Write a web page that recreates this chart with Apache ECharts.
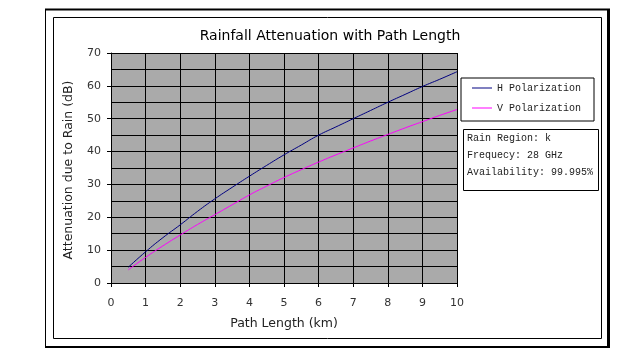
<!DOCTYPE html>
<html><head><meta charset="utf-8">
<script src="https://cdn.jsdelivr.net/npm/echarts@6/dist/echarts.min.js"></script>
<style>html,body{margin:0;padding:0;background:#fff}#c{width:637px;height:359px}</style>
</head><body><div id="c"></div>
<script>
const pathLength = [0.5,1,1.5,2,2.5,3,3.5,4,4.5,5,5.5,6,6.5,7,7.5,8,8.5,9,9.5,10];
const hPol = [4.8,9.5,13.8,17.7,21.8,25.6,29.1,32.5,35.8,39.0,42.0,45.0,47.5,50.0,52.5,55.0,57.4,59.8,62.0,64.3];
const vPol = [4.0,7.8,11.3,14.6,17.8,20.8,23.8,26.8,29.5,32.1,34.5,36.8,39.0,41.1,43.2,45.2,47.2,49.1,51.0,52.8];
const seriesNames = ['H Polarization','V Polarization'];
const infoLines = ['Rain Region: k','Frequecy: 28 GHz','Availability: 99.995%'];
const titleText = 'Rainfall Attenuation with Path Length';
const xName = 'Path Length (km)';
const yName = 'Attenuation due to Rain (dB)';

const chart = echarts.init(document.getElementById('c'), null, {renderer:'canvas'});
const mono = 'Liberation Mono';
const sans = 'DejaVu Sans';
chart.setOption({
  animation:false,
  backgroundColor:'#fff',
  title:{text:titleText,left:325,top:24,textAlign:'center',textStyle:{fontFamily:sans,fontSize:14,fontWeight:'normal',color:'#000'}},
  grid:{left:111,right:180,top:53,bottom:76,show:true,backgroundColor:'#aaaaaa',borderWidth:0},
  xAxis:{type:'value',min:0,max:10,interval:1,name:xName,nameLocation:'middle',nameGap:34,
    nameTextStyle:{fontFamily:sans,fontSize:12.5,color:'#222'},
    axisLine:{show:true,lineStyle:{color:'#000',width:1}},
    axisTick:{show:true,length:4,lineStyle:{color:'#000'}},
    axisLabel:{fontFamily:sans,fontSize:11,color:'#333',margin:15},
    splitLine:{show:true,lineStyle:{color:'#000',width:1}}},
  yAxis:{type:'value',min:0,max:70,interval:10,
    axisLine:{show:true,lineStyle:{color:'#000',width:1}},
    axisTick:{show:true,length:4,lineStyle:{color:'#000'}},
    axisLabel:{fontFamily:sans,fontSize:11,color:'#333',margin:10},
    splitLine:{show:true,lineStyle:{color:'#000',width:1}},
    minorTick:{show:false,splitNumber:2},
    minorSplitLine:{show:true,lineStyle:{color:'#000',width:1}}},
  legend:{orient:'vertical',left:461,top:78,itemWidth:20,itemHeight:1,itemGap:10,
    padding:[5,13,8,11],borderColor:'#000',borderWidth:1,backgroundColor:'#fff',icon:'rect',
    textStyle:{fontFamily:mono,fontSize:10,color:'#222'},
    data:seriesNames},
  graphic:[
    {type:'rect',shape:{x:45.5,y:9.5,width:563,height:337},style:{fill:'none',stroke:'#000',lineWidth:1},silent:true},
    {type:'line',shape:{x1:608.5,y1:9,x2:608.5,y2:348},style:{stroke:'#000',lineWidth:3},silent:true},
    {type:'line',shape:{x1:45,y1:347,x2:610,y2:347},style:{stroke:'#000',lineWidth:2},silent:true},
    {type:'line',shape:{x1:45,y1:9.5,x2:610,y2:9.5},style:{stroke:'#000',lineWidth:2},silent:true},
    {type:'rect',shape:{x:53.5,y:17.5,width:548,height:321},style:{fill:'none',stroke:'#000',lineWidth:1},silent:true},
    {type:'text',x:69,y:170,rotation:Math.PI/2,style:{text:yName,fontFamily:sans,fontSize:12.5,fill:'#222',textAlign:'center',textVerticalAlign:'middle'},silent:true},
    {type:'rect',shape:{x:463.5,y:129.5,width:135,height:61},style:{fill:'#fff',stroke:'#000',lineWidth:1},silent:true},
    {type:'text',x:467,y:138,style:{text:infoLines[0],fontFamily:mono,fontSize:10,fill:'#222',textVerticalAlign:'middle'},silent:true},
    {type:'text',x:467,y:155,style:{text:infoLines[1],fontFamily:mono,fontSize:10,fill:'#222',textVerticalAlign:'middle'},silent:true},
    {type:'text',x:467,y:172,style:{text:infoLines[2],fontFamily:mono,fontSize:10,fill:'#222',textVerticalAlign:'middle'},silent:true}
  ],
  series:[
    {name:seriesNames[0],type:'line',data:pathLength.map((x,i)=>[x,hPol[i]]),showSymbol:false,symbol:'none',smooth:true,
      lineStyle:{color:'#000080',width:1},itemStyle:{color:'#000080'}},
    {name:seriesNames[1],type:'line',data:pathLength.map((x,i)=>[x,vPol[i]]),showSymbol:false,symbol:'none',smooth:true,
      lineStyle:{color:'#ff00ff',width:1},itemStyle:{color:'#ff00ff'}}
  ]
});
</script></body></html>
